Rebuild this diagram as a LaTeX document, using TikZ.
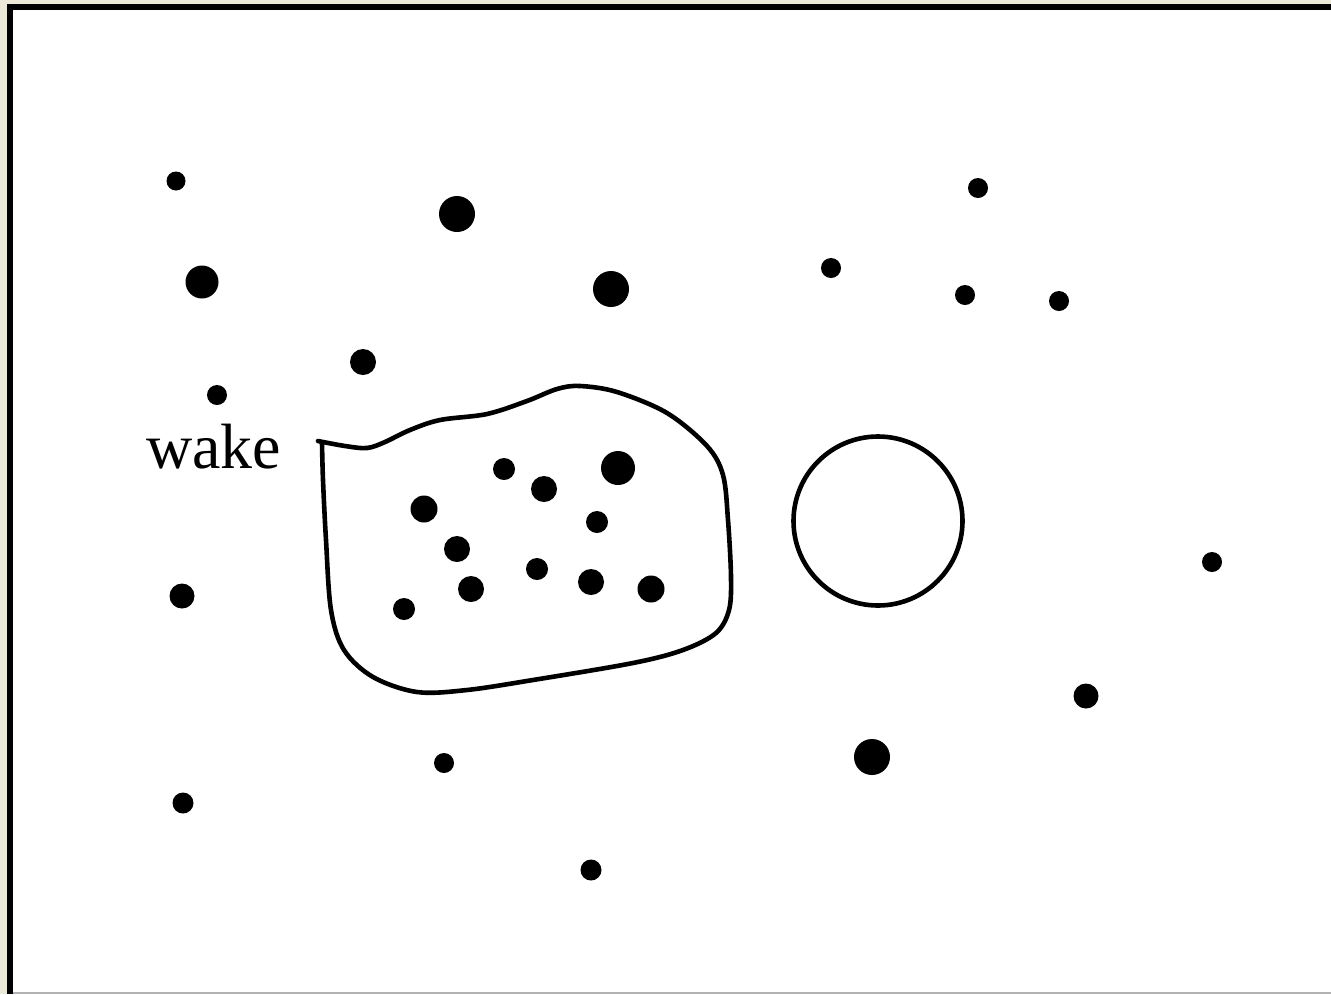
\documentclass[tikz,border=0pt]{standalone}
\usepackage{fontspec}
\setmainfont{Liberation Serif}
\definecolor{winbg}{HTML}{ECE9D8}
\tikzset{
  dotmark/.style={circle, fill=black, inner sep=0pt, minimum size=#1},
  dotmark/.default=20pt,
  outline/.style={line width=4.6pt, line join=round, line cap=round}
}
\begin{document}
\begin{tikzpicture}[x=1pt, y=-1pt]
\useasboundingbox (0,0) rectangle (1331,994);
\fill[winbg] (0,0) rectangle (1331,994);
\fill[white] (13,10) rectangle (1331,992);
\fill[black] (7,4) rectangle (1331,10);
\fill[black] (7,4) rectangle (13,994);
\fill[gray!60] (13,992) rectangle (1331,994);
% outside dots
\node[dotmark=19pt] (d1) at (176,181) {};
\node[dotmark=36pt] (d2) at (457,214) {};
\node[dotmark=33pt] (d3) at (202,282) {};
\node[dotmark=36pt] (d4) at (611,289) {};
\node[dotmark=20pt] (d5) at (831,268) {};
\node[dotmark=20pt] (d6) at (978,188) {};
\node[dotmark=20pt] (d7) at (965,295) {};
\node[dotmark=20pt] (d8) at (1059,301) {};
\node[dotmark=26pt] (d9) at (363,362) {};
\node[dotmark=20pt] (d10) at (217,395) {};
\node[dotmark=25pt] (d11) at (182,596) {};
\node[dotmark=20pt] (d12) at (1212,562) {};
\node[dotmark=25pt] (d13) at (1086,696) {};
\node[dotmark=36pt] (d14) at (872,757) {};
\node[dotmark=20pt] (d15) at (444,763) {};
\node[dotmark=21pt] (d16) at (183,803) {};
\node[dotmark=21pt] (d17) at (591,870) {};
% inside dots
\node[dotmark=22pt] (w1) at (504,469) {};
\node[dotmark=26pt] (w2) at (544,489) {};
\node[dotmark=34pt] (w3) at (618,468) {};
\node[dotmark=27pt] (w4) at (424,509) {};
\node[dotmark=22pt] (w5) at (597,522) {};
\node[dotmark=26pt] (w6) at (457,549) {};
\node[dotmark=22pt] (w7) at (537,569) {};
\node[dotmark=26pt] (w8) at (471,589) {};
\node[dotmark=26pt] (w9) at (591,582) {};
\node[dotmark=27pt] (w10) at (651,589) {};
\node[dotmark=22pt] (w11) at (404,609) {};
% body circle
\node[circle, draw, line width=4.6pt, minimum size=169pt, inner sep=0pt] (body) at (878,521) {};
% wake blob
\draw[outline] plot[smooth, tension=0.55] coordinates {
 (318,441) (345,446) (367,448) (385,442) (410,430) (440,420) (487,414)
 (527,401) (557,389) (580,386) (617,392) (667,413) (707,446) (723,475)
 (728,520) (731,577) (729,610) (716,633) (683,650) (633,663) (533,680)
 (467,690) (417,692) (373,677) (344,650) (331,610) (326,540) (323,480) (322,443)};
% label
\node[font=\fontsize{64}{64}\selectfont, anchor=base west, inner sep=0pt] (lbl) at (146,468) {wake};
\end{tikzpicture}
\end{document}
